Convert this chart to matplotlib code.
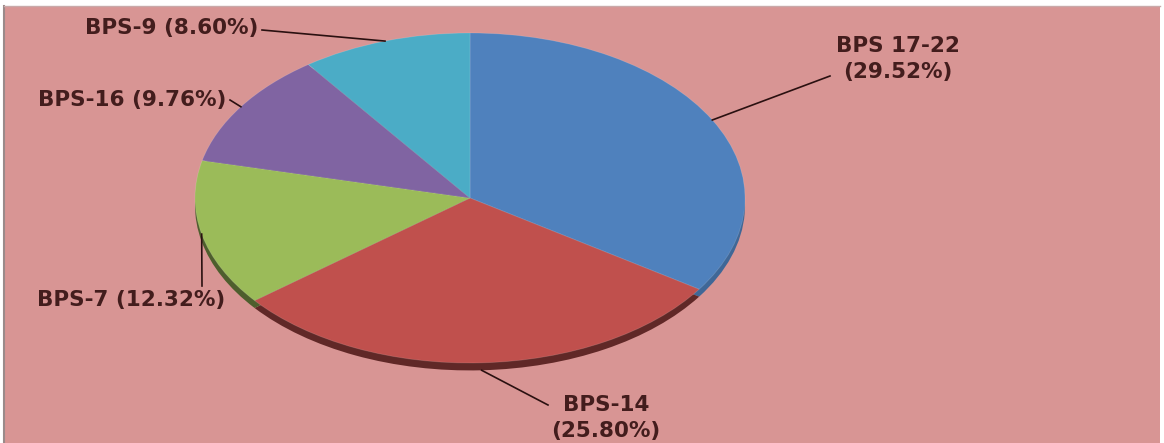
import numpy as np
import matplotlib.pyplot as plt
from matplotlib.patches import Rectangle

labels = ["BPS 17-22", "BPS-14", "BPS-7", "BPS-16", "BPS-9"]
shares = [29.52, 25.80, 12.32, 9.76, 8.60]   # percent, as printed on the chart
colors = ["#4F81BD", "#C0504D", "#9BBB59", "#8064A2", "#4BACC6"]

W, H = 1164, 443
cx, cy, rx, ry = 470, 198, 275, 165   # pie centre and radii in pixels (top-left origin)

def px(x, y):
    # pixel position (top-left origin) -> pie data coords
    return (x - cx) / rx, (cy - y) / ry

fig = plt.figure(figsize=(W / 100, H / 100), dpi=100)
fig.patch.set_facecolor("white")

bg = fig.add_axes([0, 0, 1, 1])
bg.set_xlim(0, W)
bg.set_ylim(H, 0)
bg.axis("off")
bg.add_patch(Rectangle((4, 6), W - 8, H - 6, facecolor="#D89594", edgecolor="none"))
bg.plot([4, 4], [6, H], color="#9a8a8a", lw=1.5)
bg.plot([4, W - 4], [6, 6], color="#c9a9a9", lw=1)

ax = fig.add_axes([0, 0, 1, 1])
ax.patch.set_alpha(0)

dark = [tuple(0.5 * np.array(plt.matplotlib.colors.to_rgb(c))) for c in colors]
dark[0] = tuple(0.8 * np.array(plt.matplotlib.colors.to_rgb(colors[0])))
ax.pie(shares, colors=dark, startangle=90, counterclock=False, center=(0, -0.045),
       wedgeprops=dict(linewidth=0))
wedges, _ = ax.pie(shares, colors=colors, startangle=90, counterclock=False,
                   wedgeprops=dict(linewidth=0.6, edgecolor=(1, 1, 1, 0.15)))

ax.set_aspect("auto")
x0, y0 = px(0, H)
x1, y1 = px(W, 0)
ax.set_xlim(x0, x1)
ax.set_ylim(y0, y1)
ax.axis("off")

tcol = "#431D1D"
fs = 15.5

# label text positions (pixels) and where the leader line ends
text_spec = [
    (f"{labels[0]}\n({shares[0]:.2f}%)", (898, 59), "center", (830, 76)),
    (f"{labels[1]}\n({shares[1]:.2f}%)", (606, 418), "center", (548, 405)),
    (f"{labels[2]} ({shares[2]:.2f}%)", (225, 300), "right", (202, 286)),
    (f"{labels[3]} ({shares[3]:.2f}%)", (226, 100), "right", (230, 100)),
    (f"{labels[4]} ({shares[4]:.2f}%)", (258, 28), "right", (262, 30)),
]

for w, (txt, (tx, ty), ha, (lx, ly)) in zip(wedges, text_spec):
    mid = np.deg2rad((w.theta1 + w.theta2) / 2)
    ex, ey = np.cos(mid), np.sin(mid)
    if ey < -0.5:
        ey -= 0.045
    ax.text(*px(tx, ty), txt, ha=ha, va="center", fontsize=fs, color=tcol,
            fontweight="bold", linespacing=1.35, multialignment="center")
    ax.plot([ex, px(lx, ly)[0]], [ey, px(lx, ly)[1]], color="#2a1010", lw=1.2)

fig.savefig("out.png", dpi=100)
